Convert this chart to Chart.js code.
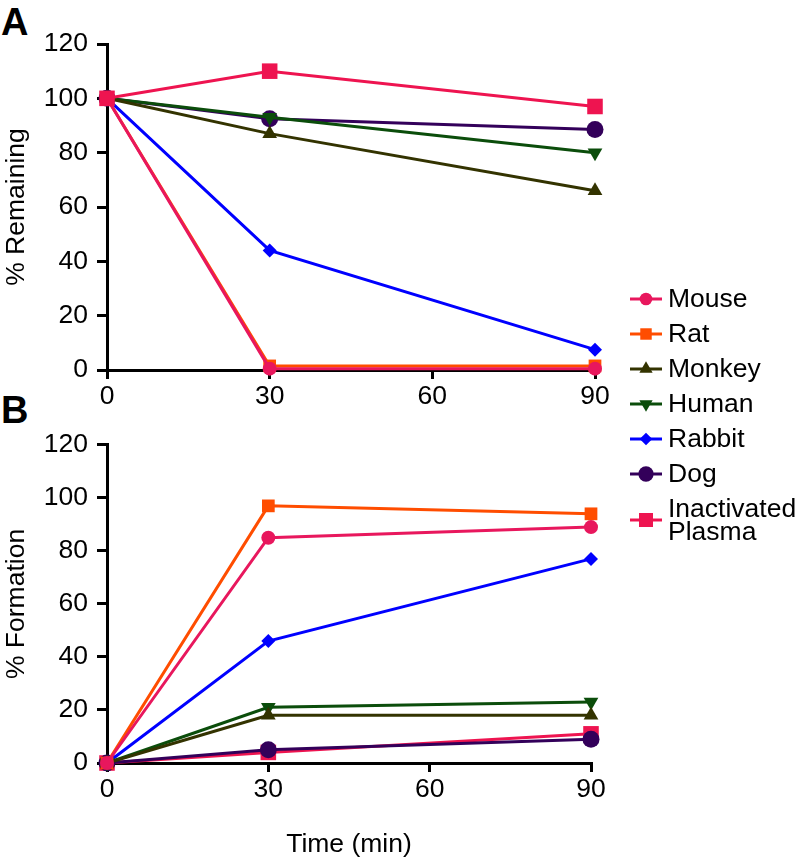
<!DOCTYPE html>
<html>
<head>
<meta charset="utf-8">
<script src="https://cdn.jsdelivr.net/npm/chart.js@4"></script>
<style>
body { margin: 0; background: #fff; width: 798px; height: 864px; position: relative; overflow: hidden;
       font-family: "Liberation Sans", Arial, sans-serif; color: #000; }
.panel { position: absolute; left: 0; width: 640px; }
#wrapA { top: 0; height: 420px; }
#wrapB { top: 420px; height: 444px; }
.tag { position: absolute; left: 1px; font-weight: bold; font-size: 38px; line-height: 1; }
#legend { position: absolute; left: 628px; top: 281px; }
.item { display: flex; align-items: center; height: 35px; font-size: 26.5px; }
.item canvas { margin-right: 4px; }
.item span { line-height: 23px; }
</style>
</head>
<body>
<div class="tag" style="top:3px">A</div>
<div class="tag" style="top:391px">B</div>
<div class="panel" id="wrapA"><canvas id="chartA" width="640" height="420"></canvas></div>
<div class="panel" id="wrapB"><canvas id="chartB" width="640" height="444"></canvas></div>
<div id="legend"></div>
<script>
const times = [0, 30, 90];
const xTicks = [0, 30, 60, 90];
const species = ["Mouse", "Rat", "Monkey", "Human", "Rabbit", "Dog", "Inactivated Plasma"];

// panel A, % remaining
const mouseRemaining = [100, 0.5, 0.5];
const ratRemaining = [100, 1.5, 1.5];
const monkeyRemaining = [100, 87, 66];
const humanRemaining = [100, 93, 80];
const rabbitRemaining = [100, 44, 7.5];
const dogRemaining = [100, 92.5, 88.5];
const plasmaRemaining = [100, 110, 97];

// panel B, % formation
const mouseFormation = [0, 85, 89];
const ratFormation = [0, 97, 94];
const monkeyFormation = [0, 18, 18];
const humanFormation = [0, 21, 23];
const rabbitFormation = [0, 46, 77];
const dogFormation = [0, 5, 9];
const plasmaFormation = [0, 4, 11];

const styles = [
    { color: '#e8175d', pointStyle: 'circle', radius: 7, rotation: 0 },
    { color: '#ff4d00', pointStyle: 'rect', radius: 9, rotation: 0 },
    { color: '#333300', pointStyle: 'triangle', radius: 8.5, rotation: 0 },
    { color: '#0b4d0b', pointStyle: 'triangle', radius: 8.5, rotation: 180 },
    { color: '#0000ff', pointStyle: 'rectRot', radius: 7, rotation: 0 },
    { color: '#33005a', pointStyle: 'circle', radius: 8.5, rotation: 0 },
    { color: '#ee1450', pointStyle: 'rect', radius: 11, rotation: 0 },
];

function makeDatasets(seriesList, plasmaOnTop) {
    return seriesList.map(function (vals, i) {
        const s = styles[i];
        return {
            label: species[i],
            data: times.map((t, j) => ({ x: t, y: vals[j] })),
            borderColor: s.color,
            backgroundColor: s.color,
            borderWidth: 3,
            pointStyle: s.pointStyle,
            pointRadius: s.radius,
            pointRotation: s.rotation,
            pointBorderWidth: 0,
            tension: 0,
            clip: false,
            order: (plasmaOnTop && i === 6) ? -1 : 0,
        };
    });
}

function makeScales(yTitle, showXTitle, xHeight) {
    const tickFont = { family: '"Liberation Sans", Arial, sans-serif', size: 26.5 };
    return {
        x: {
            type: 'linear', min: 0, max: 90,
            afterBuildTicks: s => { s.ticks = xTicks.map(v => ({ value: v })); },
            ticks: { color: '#000', font: tickFont, padding: 2, maxRotation: 0 },
            grid: { drawOnChartArea: false, color: '#000', lineWidth: 3, tickLength: 9 },
            border: { color: '#000', width: 3 },
            title: { display: showXTitle, text: 'Time (min)', color: '#000', font: tickFont,
                     padding: { top: 0, bottom: 3 } },
            afterFit: s => { s.height = xHeight; },
        },
        y: {
            min: 0, max: 120,
            ticks: { stepSize: 20, color: '#000', font: tickFont, padding: 9 },
            grid: { drawOnChartArea: false, color: '#000', lineWidth: 3, tickLength: 10 },
            border: { color: '#000', width: 3 },
            title: { display: true, text: yTitle, color: '#000', font: tickFont,
                     padding: { top: 1, bottom: 0 } },
            afterFit: s => { s.width = 107; },
        },
    };
}

function makeChart(id, seriesList, yTitle, showXTitle, xHeight, padding, plasmaOnTop) {
    return new Chart(document.getElementById(id), {
        type: 'line',
        data: { datasets: makeDatasets(seriesList, plasmaOnTop) },
        options: {
            responsive: false,
            animation: false,
            layout: { padding: padding },
            plugins: { legend: { display: false }, tooltip: { enabled: false } },
            scales: makeScales(yTitle, showXTitle, xHeight),
        },
    });
}

makeChart('chartA',
    [mouseRemaining, ratRemaining, monkeyRemaining, humanRemaining, rabbitRemaining, dogRemaining, plasmaRemaining],
    '% Remaining', false, 50, { top: 44, right: 45, left: 0, bottom: 0 }, true);

makeChart('chartB',
    [mouseFormation, ratFormation, monkeyFormation, humanFormation, rabbitFormation, dogFormation, plasmaFormation],
    '% Formation', true, 101, { top: 20, right: 49, left: 0, bottom: 0 }, false);

// legend
const legend = document.getElementById('legend');
species.forEach(function (name, i) {
    const s = styles[i];
    const item = document.createElement('div');
    item.className = 'item';
    if (i === 6) item.style.height = '58px';
    const c = document.createElement('canvas');
    c.width = 36; c.height = 24;
    const ctx = c.getContext('2d');
    ctx.strokeStyle = s.color;
    ctx.fillStyle = s.color;
    ctx.lineWidth = 3;
    ctx.beginPath();
    ctx.moveTo(2, 12);
    ctx.lineTo(34, 12);
    ctx.stroke();
    Chart.helpers.drawPoint(ctx, { pointStyle: s.pointStyle, radius: s.radius * 0.9, rotation: s.rotation, borderWidth: 0 }, 18, 12);
    const label = document.createElement('span');
    label.innerHTML = name === 'Inactivated Plasma' ? 'Inactivated<br>Plasma' : name;
    item.appendChild(c);
    item.appendChild(label);
    legend.appendChild(item);
});
</script>
</body>
</html>
